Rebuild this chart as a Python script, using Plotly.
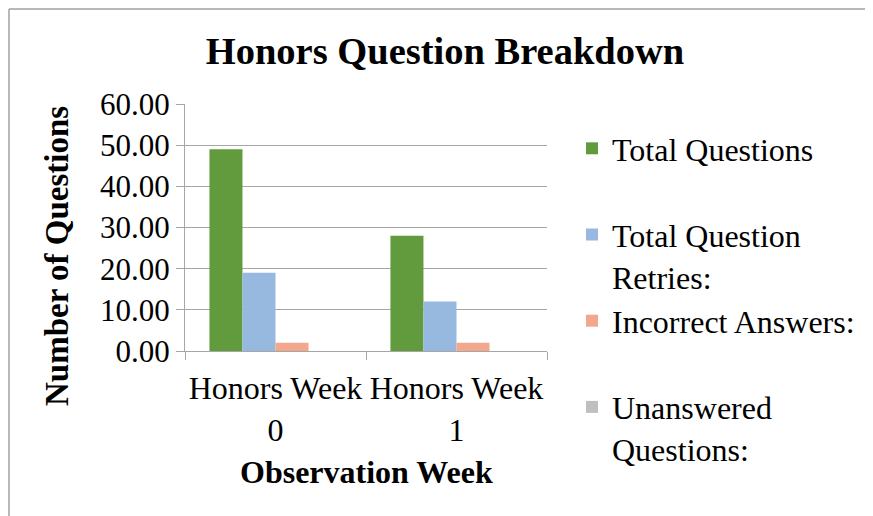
import plotly.graph_objects as go

# chart data
weeks = ["Honors Week<br>0", "Honors Week<br>1"]
series_names = ["Total Questions", "Total Question<br>Retries:",
                "Incorrect Answers:", "Unanswered<br>Questions:"]
total_questions = [49, 28]
question_retries = [19, 12]
incorrect_answers = [2, 2]
unanswered = [0, 0]
y_ticks = [0, 10, 20, 30, 40, 50, 60]

colors = ["#629b3e", "#97b9e0", "#f2a88c", "#bfbfbf"]
serif = "Liberation Serif, Times New Roman, serif"

OFF = 8  # page body margin
W, H = 873 - OFF, 516 - OFF
# plot area in screen pixels
L, R, T, B = 185, 547, 104, 351


def px_x(x):
    return (x - L) / (R - L)


def px_y(y):
    return (B - y) / (B - T)


fig = go.Figure()
for i, (name, vals, col) in enumerate(zip(series_names,
                                          [total_questions, question_retries, incorrect_answers, unanswered],
                                          colors)):
    # pad single-line names so every legend entry has the same height
    label = name if "<br>" in name else name + "<br>\u00a0"
    fig.add_trace(go.Bar(x=weeks, y=vals, name=label, marker_color=col,
                         marker_line_width=0, legendgroup=str(i)))

fig.update_layout(
    width=W, height=H, autosize=False,
    margin=dict(l=L - OFF, r=W - (R - OFF), t=T - OFF, b=H - (B - OFF), pad=0,
                autoexpand=False),
    paper_bgcolor="white", plot_bgcolor="white",
    font=dict(family=serif, size=31, color="black"),
    barmode="group", bargap=0.27, bargroupgap=0,
    title=dict(text="<b>Honors Question Breakdown</b>", x=(445 - OFF) / W, xanchor="center",
               y=1 - (51 - OFF) / H, yanchor="middle", font=dict(size=38.5, family=serif)),
    legend=dict(x=px_x(572), xanchor="left", y=px_y(121), yanchor="top",
                valign="top", font=dict(size=32, family=serif),
                bgcolor="rgba(0,0,0,0)", traceorder="grouped", tracegroupgap=0,
                maxheight=500),
    showlegend=True,
)

fig.update_yaxes(range=[0, 60], tickvals=y_ticks, tickformat=".2f",
                 showgrid=True, gridcolor="#a6a6a6", gridwidth=1,
                 showline=True, linecolor="#a6a6a6", linewidth=1,
                 ticks="outside", ticklen=8, tickcolor="#a6a6a6",
                 tickfont=dict(size=31, family=serif), zeroline=False)
fig.update_xaxes(showline=True, linecolor="#a6a6a6", linewidth=1,
                 ticks="outside", ticklen=8, tickcolor="#a6a6a6",
                 tickson="boundaries", ticklabelstandoff=9, tickangle=0,
                 tickfont=dict(size=32, family=serif))

fig.add_annotation(text="<b>Number of Questions</b>", xref="paper", yref="paper",
                   x=px_x(57), y=px_y(256), textangle=-90, showarrow=False,
                   xanchor="center", yanchor="middle", font=dict(size=33, family=serif))
fig.add_annotation(text="<b>Observation Week</b>", xref="paper", yref="paper",
                   x=0.5, y=px_y(472), showarrow=False,
                   xanchor="center", yanchor="middle", font=dict(size=32, family=serif))

# outer chart frame (top and left edges visible)
fig.add_shape(type="line", xref="paper", yref="paper",
              x0=px_x(9), y0=px_y(9), x1=px_x(880), y1=px_y(9),
              line=dict(color="#a0a0a0", width=1.5))
fig.add_shape(type="line", xref="paper", yref="paper",
              x0=px_x(9), y0=px_y(9), x1=px_x(9), y1=px_y(530),
              line=dict(color="#a0a0a0", width=1.5))

fig.write_html("out.html")
